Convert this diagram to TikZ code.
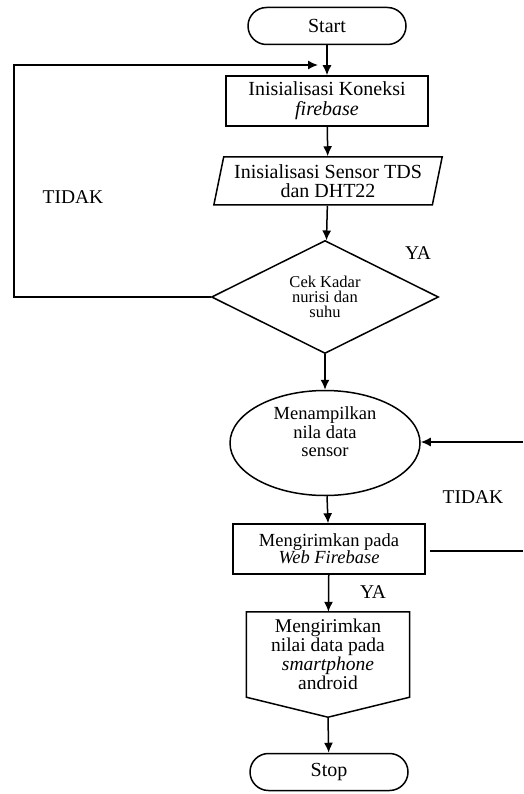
\documentclass[tikz,border=0pt]{standalone}
\usepackage{fontspec}
\setmainfont{Liberation Serif}
\usetikzlibrary{arrows.meta,calc,positioning,shapes.geometric}

\tikzset{
  garis/.style={line width=1.5pt},
  panah/.style={garis,-{Latex[length=10pt,width=9pt]}},
  terminal/.style={draw,garis,rectangle,rounded corners=18.5pt,minimum width=158pt,minimum height=37pt,font=\fontsize{20}{20}\selectfont},
  proses/.style={draw,garis,rectangle,align=center,inner sep=0pt},
  label/.style={font=\fontsize{19.5}{20}\selectfont}
}

\begin{document}
\begin{tikzpicture}[x=1pt,y=-1pt]
\useasboundingbox (0,0) rectangle (523,794);
% simpul utama
\node[terminal] (mulai) at (327,26) {Start};
\node[proses,minimum width=202pt,minimum height=50pt,font=\fontsize{20}{20}\selectfont] (koneksi) at (327,101) {Inisialisasi Koneksi\\\textit{firebase}};
\node[draw,garis,trapezium,trapezium stretches=true,trapezium left angle=75,trapezium right angle=105,minimum width=229pt,minimum height=48pt,align=center,inner sep=0pt,font=\fontsize{20}{19}\selectfont] (sensor) at (328,181) {Inisialisasi Sensor TDS\\dan DHT22};
\node[draw,garis,diamond,aspect=2,minimum width=227pt,minimum height=113pt,align=center,inner sep=0pt,font=\fontsize{16.5}{15}\selectfont] (cek) at (325,297) {Cek Kadar\\nurisi dan\\suhu};
\node[draw,garis,ellipse,minimum width=190pt,minimum height=105pt,align=center,inner sep=0pt,font=\fontsize{18.5}{18.5}\selectfont] (tampil) at (325,443) {Menampilkan\\nila data\\sensor\\[4pt]};
\node[proses,minimum width=192pt,minimum height=50pt,font=\fontsize{18.5}{17}\selectfont] (kirimweb) at (329,549) {Mengirimkan pada\\\textit{Web Firebase}};
\node[align=center,inner sep=0pt,minimum width=163pt,minimum height=85pt,font=\fontsize{19.5}{19}\selectfont] (kirimhp) at (328,654.5) {Mengirimkan\\nilai data pada\\\textit{smartphone}\\android};
\draw[garis] (kirimhp.north west) -- (kirimhp.north east) -- (kirimhp.south east) -- ($(kirimhp.south)+(0,20)$) coordinate (ujung) -- (kirimhp.south west) -- cycle;
\node[terminal] (selesai) at (329,772) {Stop};
% alur utama
\draw[panah] (mulai) -- (koneksi);
\draw[panah] (koneksi) -- (sensor);
\draw[panah] (sensor) -- (cek);
\draw[panah] (cek) -- (tampil);
\draw[panah] (tampil) -- (kirimweb);
\draw[panah] (kirimweb) -- (kirimhp);
\draw[panah] (ujung) -- (selesai);
% cabang
\coordinate (kiri) at (14,65);
\coordinate (masuk) at (318,65);
\draw[panah] (cek.west) -| (kiri) -- (masuk);
\coordinate (kanan1) at (523,442);
\coordinate (kanan2) at (523,551);
\draw[panah] (kanan1) -- (tampil.east |- kanan1);
\draw[garis,shorten <=4pt] (kirimweb.east |- kanan2) -- (kanan2);
% label
\node[label] (tidak1) at (73,197) {TIDAK};
\node[label] (ya1) at (418,253) {YA};
\node[label] (tidak2) at (473,497) {TIDAK};
\node[label] (ya2) at (373,592) {YA};
\end{tikzpicture}
\end{document}
